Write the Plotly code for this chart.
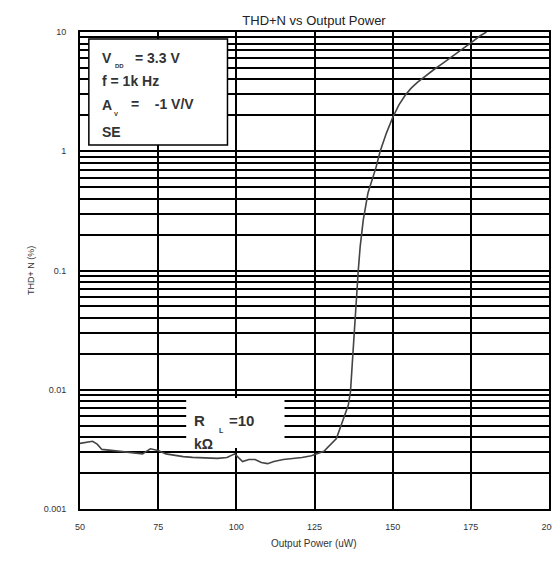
import plotly.graph_objects as go

# THD+N curve
power_uw = [50.0, 52.0, 54.0, 55.5, 57.0, 60.0, 62.0, 65.0, 67.5, 70.0, 72.5, 75.0,
            77.5, 80.0, 83.0, 86.0, 90.0, 94.0, 97.0, 99.5, 102.0, 104.0, 106.0,
            108.0, 110.0, 112.0, 115.0, 118.0, 121.0, 124.0, 128.0, 132.0, 134.3,
            135.8, 136.5, 137.4, 138.4, 139.0, 139.6, 140.6, 142.1, 144.7, 146.0,
            148.0, 150.0, 152.0, 154.0, 156.0, 158.0, 160.0, 163.0, 166.0, 169.0,
            172.0, 175.0, 178.0, 180.0]
thd_pct = [0.00355, 0.0036, 0.0037, 0.0035, 0.00316, 0.0031, 0.00305, 0.0030,
           0.00293, 0.0029, 0.0032, 0.0031, 0.0029, 0.00282, 0.00275, 0.00271,
           0.00268, 0.00266, 0.0027, 0.0029, 0.0025, 0.0026, 0.0026, 0.00245,
           0.0024, 0.0025, 0.0026, 0.00265, 0.0027, 0.0028, 0.00305, 0.0039,
           0.0057, 0.0074, 0.0096, 0.0233, 0.050, 0.10, 0.158, 0.266, 0.447,
           0.736, 1.0, 1.42, 1.92, 2.45, 2.95, 3.4, 3.8, 4.2, 4.8, 5.45, 6.2,
           7.1, 8.1, 9.3, 10.0]

x_ticks = [50, 75, 100, 125, 150, 175, 200]
decades = [0.001, 0.01, 0.1, 1, 10]
decade_labels = ["0.001", "0.01", "0.1", "1", "10"]

# every 1..9 line of each decade gets a grid line, only decades get a label
y_grid = []
y_text = []
for i, d in enumerate(decades[:-1]):
    for m in range(1, 10):
        y_grid.append(d * m)
        y_text.append(decade_labels[i] if m == 1 else "")
y_grid.append(10)
y_text.append("10")

W, H = 560, 561
L, R, T, B = 72, 549, 24, 501


def px(x):
    return (x - L) / (R - L)


def py(y):
    return (B - y) / (B - T)


font = "Liberation Sans, Arial, sans-serif"
ink = "#333333"

fig = go.Figure()
fig.add_trace(go.Scatter(x=power_uw, y=thd_pct, mode="lines",
                         line=dict(color="#444444", width=1.6), hoverinfo="skip"))

shapes = [
    # condition box top-left
    dict(type="rect", xref="paper", yref="paper", x0=px(81), x1=px(222),
         y0=py(137), y1=py(31), fillcolor="white", line=dict(color="black", width=1.5),
         layer="above"),
    # white label patch for R_L
    dict(type="rect", xref="paper", yref="paper", x0=px(180), x1=px(280),
         y0=py(440), y1=py(390), fillcolor="white", line=dict(width=0),
         layer="above"),
]

big = dict(family=font, size=14, color=ink)
small = dict(family=font, size=6, color=ink)
notes = [
    ("V", 92, 50, big), ("DD", 106, 58, small), ("= 3.3 V", 126, 50, big),
    ("f = 1k Hz", 92, 73, big),
    ("A", 92, 97, big), ("V", 105, 106, small), ("=    -1 V/V", 122, 96, big),
    ("SE", 92, 124, big),
    ("R", 186, 412, dict(family=font, size=15, color=ink)),
    ("L", 211, 422, dict(family=font, size=7, color=ink)),
    ("=10", 221, 412, dict(family=font, size=15, color=ink)),
    ("kΩ", 186, 436, dict(family=font, size=14, color=ink)),
]
annotations = []
for txt, x, y, f in notes:
    annotations.append(dict(text="<b>" + txt + "</b>", xref="paper", yref="paper",
                            x=px(x), y=py(y), xanchor="left", yanchor="middle",
                            showarrow=False, font=f))

annotations.append(dict(text="THD+ N (%)", xref="paper", yref="paper", x=px(15),
                        y=py(262), textangle=-90, showarrow=False,
                        font=dict(family=font, size=9, color=ink)))
annotations.append(dict(text="Output Power (uW)", xref="paper", yref="paper",
                        x=px(310), y=py(543), showarrow=False,
                        font=dict(family=font, size=10, color=ink)))

fig.update_layout(
    width=W, height=H,
    margin=dict(l=L, r=W - R, t=T, b=H - B),
    paper_bgcolor="white", plot_bgcolor="white",
    showlegend=False,
    title=dict(text="THD+N vs Output Power", x=px(310), xref="paper",
               y=1 - 12 / H, yanchor="middle", xanchor="center",
               font=dict(family=font, size=13, color="#222222")),
    shapes=shapes,
    annotations=annotations,
)
fig.update_xaxes(range=[50, 200], tickvals=x_ticks, showgrid=True,
                 gridcolor="black", gridwidth=1.6, zeroline=False,
                 showline=True, mirror=True, linecolor="black", linewidth=2,
                 ticks="", ticklabelstandoff=8,
                 tickfont=dict(family=font, size=9, color=ink))
fig.update_yaxes(type="log", range=[-3, 1], tickvals=y_grid, ticktext=y_text,
                 showgrid=True, gridcolor="black", gridwidth=1.6, zeroline=False,
                 showline=True, mirror=True, linecolor="black", linewidth=2,
                 ticks="", ticklabelstandoff=10,
                 tickfont=dict(family=font, size=9, color=ink))

fig.write_html("out.html")
